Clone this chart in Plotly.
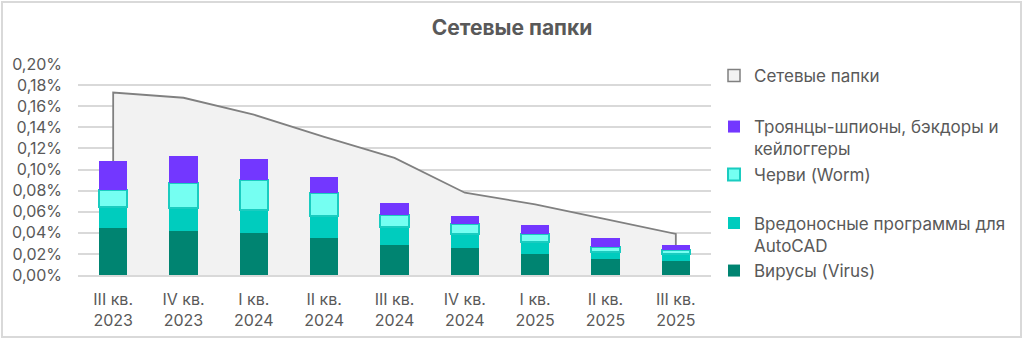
import plotly.graph_objects as go

categories = ["III кв.<br>2023", "IV кв.<br>2023", "I кв.<br>2024", "II кв.<br>2024",
              "III кв.<br>2024", "IV кв.<br>2024", "I кв.<br>2025", "II кв.<br>2025", "III кв.<br>2025"]
network_folders = [0.173, 0.168, 0.152, 0.131, 0.111, 0.078, 0.067, 0.053, 0.039]
virus = [0.0442, 0.0417, 0.0401, 0.0348, 0.0287, 0.0253, 0.0202, 0.0152, 0.0136]
autocad = [0.0206, 0.0221, 0.0215, 0.0211, 0.0165, 0.0136, 0.0111, 0.0069, 0.0060]
worm = [0.0158, 0.0237, 0.0284, 0.0221, 0.0114, 0.0091, 0.0073, 0.0041, 0.0038]
trojans = [0.0274, 0.0250, 0.0200, 0.0149, 0.0114, 0.0080, 0.0088, 0.0086, 0.0053]
y_ticks = [0.00, 0.02, 0.04, 0.06, 0.08, 0.10, 0.12, 0.14, 0.16, 0.18, 0.20]
y_tick_labels = [f"{v:.2f}".replace(".", ",") + "%" for v in y_ticks]

FONT = "Inter"
GREY_TXT = "#595959"

fig = go.Figure()

# Area on base axes (drawn below the overlaid bar subplot)
area_x = [categories[0]] + categories + [categories[-1]]
area_y = [0] + network_folders + [0]
fig.add_trace(go.Scatter(
    x=area_x, y=area_y, mode="lines", fill="tozeroy",
    fillcolor="#F2F2F2", line=dict(color="#808080", width=1.8),
    showlegend=False, hoverinfo="skip", xaxis="x", yaxis="y"))

# legend proxy for area
fig.add_trace(go.Bar(x=[None], y=[None], name="Сетевые папки",
                     marker=dict(color="#F2F2F2", line=dict(color="#808080", width=1.5)),
                     legend="legend", xaxis="x2", yaxis="y2"))

fig.add_trace(go.Bar(x=categories, y=virus, name="Вирусы (Virus)",
                     marker=dict(color="#008471", line=dict(width=0)), legend="legend5",
                     xaxis="x2", yaxis="y2"))
fig.add_trace(go.Bar(x=categories, y=autocad, name="Вредоносные программы для<br>AutoCAD",
                     marker=dict(color="#00CCBE", line=dict(width=0)), legend="legend4",
                     xaxis="x2", yaxis="y2"))
fig.add_trace(go.Bar(x=categories, y=worm, name="Черви (Worm)",
                     marker=dict(color="#75FFF2", line=dict(color="#1ACCC0", width=2)), legend="legend3",
                     xaxis="x2", yaxis="y2"))
fig.add_trace(go.Bar(x=categories, y=trojans, name="Троянцы-шпионы, бэкдоры и<br>кейлоггеры",
                     marker=dict(color="#7337FF", line=dict(width=0)), legend="legend2",
                     xaxis="x2", yaxis="y2"))

L, R, T, B = 78, 1024 - 711, 64, 340 - 275
PH = 340 - T - B
PW = 1024 - L - R


def py(px):
    return (340 - B - px) / PH


leg_x = (714 - L) / PW
leg_common = dict(x=leg_x, xanchor="left", yanchor="middle", bgcolor="rgba(0,0,0,0)",
                  font=dict(family=FONT, size=17, color=GREY_TXT), valign="top",
                  itemwidth=30)

fig.update_layout(
    width=1024, height=340,
    margin=dict(l=L, r=R, t=T, b=B, pad=0, autoexpand=False),
    paper_bgcolor="white", plot_bgcolor="white",
    barmode="stack", bargap=0.6,
    title=dict(text="<b>Сетевые папки</b>", x=0.5, xref="container", xanchor="center",
               y=1 - 28 / 340, yref="container", yanchor="middle",
               font=dict(family=FONT, size=21, color=GREY_TXT)),
    xaxis=dict(type="category", categoryarray=categories, categoryorder="array",
               showgrid=False, showline=True, linecolor="#D9D9D9", linewidth=1.5,
               ticks="", tickfont=dict(family=FONT, size=16, color=GREY_TXT),
               ticklabelstandoff=9, zeroline=False, automargin=False),
    yaxis=dict(range=[0, 0.2], tickvals=y_ticks, ticktext=y_tick_labels,
               showgrid=True, gridcolor="#D9D9D9", gridwidth=1.5, zeroline=False,
               showline=False, automargin=False,
               tickfont=dict(family=FONT, size=16, color=GREY_TXT), ticklabelstandoff=15),
    xaxis2=dict(type="category", categoryarray=categories, categoryorder="array",
                matches="x", overlaying="x", showticklabels=False, showgrid=False,
                showline=False, zeroline=False, ticks=""),
    yaxis2=dict(range=[0, 0.2], matches="y", overlaying="y", showticklabels=False,
                showgrid=False, showline=False, zeroline=False, ticks=""),
    legend=dict(y=py(76), **leg_common),
    legend2=dict(y=py(138), **leg_common),
    legend3=dict(y=py(175), **leg_common),
    legend4=dict(y=py(234.5), **leg_common),
    legend5=dict(y=py(271), **leg_common),
    shapes=[dict(type="rect", xref="paper", yref="paper",
                 x0=(2 - L) / PW, x1=(1021 - L) / PW, y0=py(337), y1=py(2),
                 line=dict(color="#D9D9D9", width=2), fillcolor="rgba(0,0,0,0)", layer="below")],
)

fig.write_html("out.html")
